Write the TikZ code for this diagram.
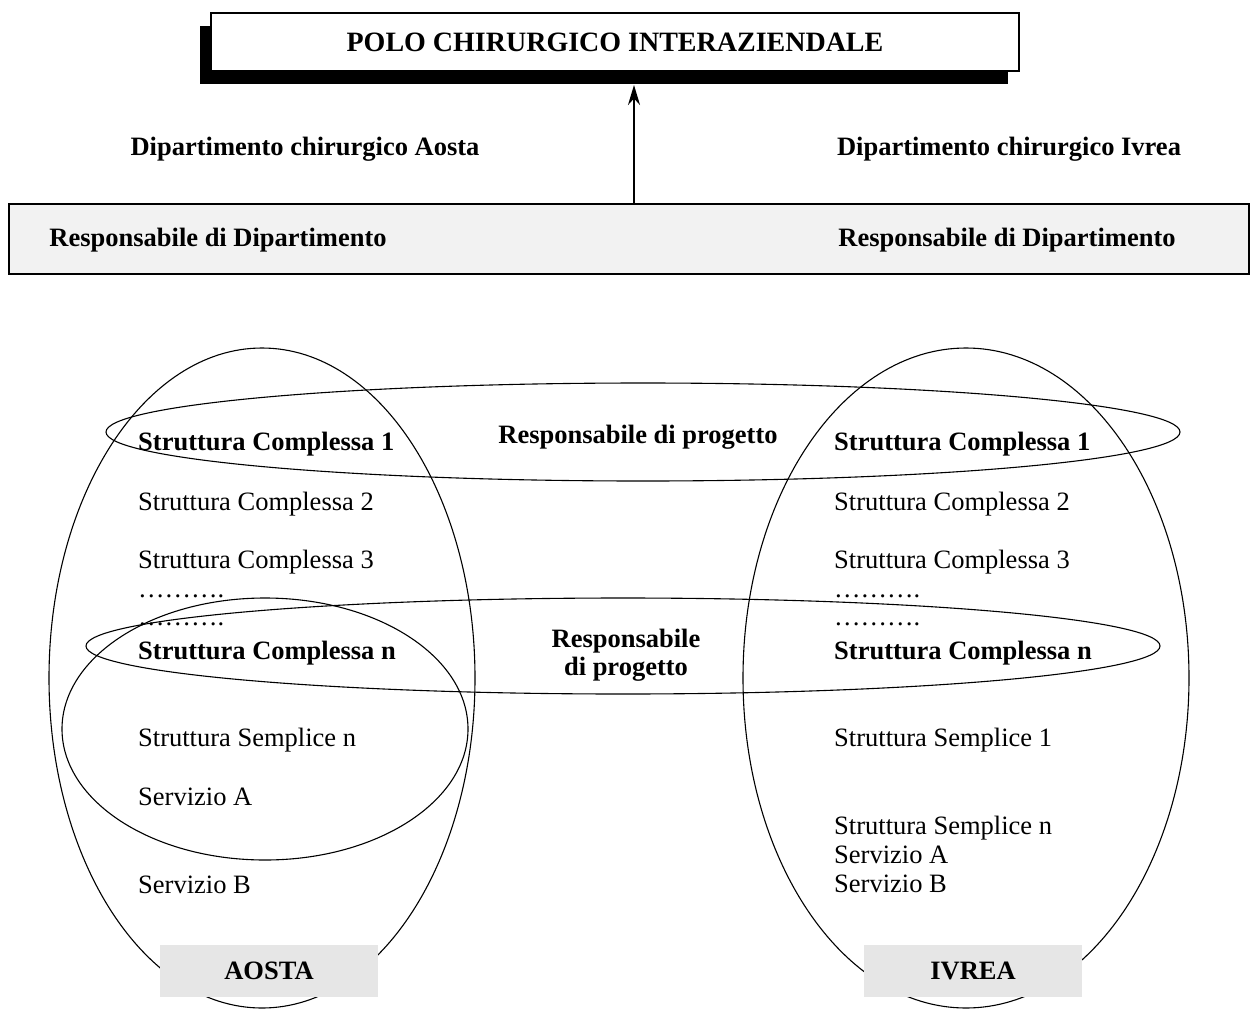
\documentclass[tikz,border=0pt]{standalone}
\usepackage{fontspec}
\setmainfont{Liberation Serif}
\usetikzlibrary{shapes,arrows,arrows.meta,positioning,calc,shadows}
\definecolor{boxgray}{RGB}{242,242,242}
\definecolor{sedegray}{RGB}{230,230,230}

\begin{document}
\begin{tikzpicture}[x=1pt,y=-1pt,
    every node/.style={font=\fontsize{26.5}{28}\selectfont, inner sep=0pt},
    voce/.style={anchor=base west},
    ovale/.style={draw, line width=1.1pt},
    sede/.style={fill=sedegray, minimum width=218pt, minimum height=52pt, font=\fontsize{26.5}{28}\selectfont\bfseries}]
    \useasboundingbox (0,0) rectangle (1253,1010);

    % Top box with shadow
    \node[draw, line width=2.5pt, fill=white, minimum width=808pt, minimum height=58pt,
          drop shadow={shadow xshift=-11pt, shadow yshift=-13pt, fill=black, opacity=1}]
          (polo) at (615,42) {\fontsize{28}{30}\selectfont\textbf{POLO CHIRURGICO INTERAZIENDALE}};

    % Departments
    \node (dipA) at (305,149) {\textbf{Dipartimento chirurgico Aosta}};
    \node (dipI) at (1009,149) {\textbf{Dipartimento chirurgico Ivrea}};

    \node[draw, line width=2.5pt, fill=boxgray, minimum width=1240pt, minimum height=70pt] (dip) at (629,239) {};
    \node (respA) at (218,240) {\textbf{Responsabile di Dipartimento}};
    \node (respI) at (1007,240) {\textbf{Responsabile di Dipartimento}};

    \coordinate (punta) at (634,85);
    \draw[-{Stealth[length=20pt,width=12pt]}, line width=2pt] (dip.north -| punta) -- (punta);

    % Ellipses
    \draw[ovale] (262,678) ellipse [x radius=213pt, y radius=330pt];
    \draw[ovale] (966,678) ellipse [x radius=223pt, y radius=330pt];
    \draw[ovale] (643,432) ellipse [x radius=537pt, y radius=49pt];
    \draw[ovale] (623,646) ellipse [x radius=537pt, y radius=48pt];
    \draw[ovale] (265,729) ellipse [x radius=203pt, y radius=131pt];

    % Sites
    \node[sede] (aosta) at (269,971) {AOSTA};
    \node[sede] (ivrea) at (973,971) {IVREA};

    % Aosta column
    \foreach \i/\y/\txt in {1/450/{\textbf{Struttura Complessa 1}},2/510/{Struttura Complessa 2},
        3/568/{Struttura Complessa 3},4/597/{……….},5/625/{……….},6/659/{\textbf{Struttura Complessa n}},
        7/746/{Struttura Semplice n},8/805/{Servizio A},9/893/{Servizio B}} {
        \node[voce] (a\i) at (138,\y) {\txt};
    }

    % Ivrea column
    \foreach \i/\y/\txt in {1/450/{\textbf{Struttura Complessa 1}},2/510/{Struttura Complessa 2},
        3/568/{Struttura Complessa 3},4/597/{……….},5/625/{……….},6/659/{\textbf{Struttura Complessa n}},
        7/746/{Struttura Semplice 1},8/834/{Struttura Semplice n},9/863/{Servizio A},10/892/{Servizio B}} {
        \node[voce] (b\i) at (834,\y) {\txt};
    }

    % Project leaders
    \node[anchor=base] (prog1) at (638,443) {\textbf{Responsabile di progetto}};
    \node[align=center] (prog2) at (626,655) {\textbf{Responsabile}\\\textbf{di progetto}};
\end{tikzpicture}
\end{document}
